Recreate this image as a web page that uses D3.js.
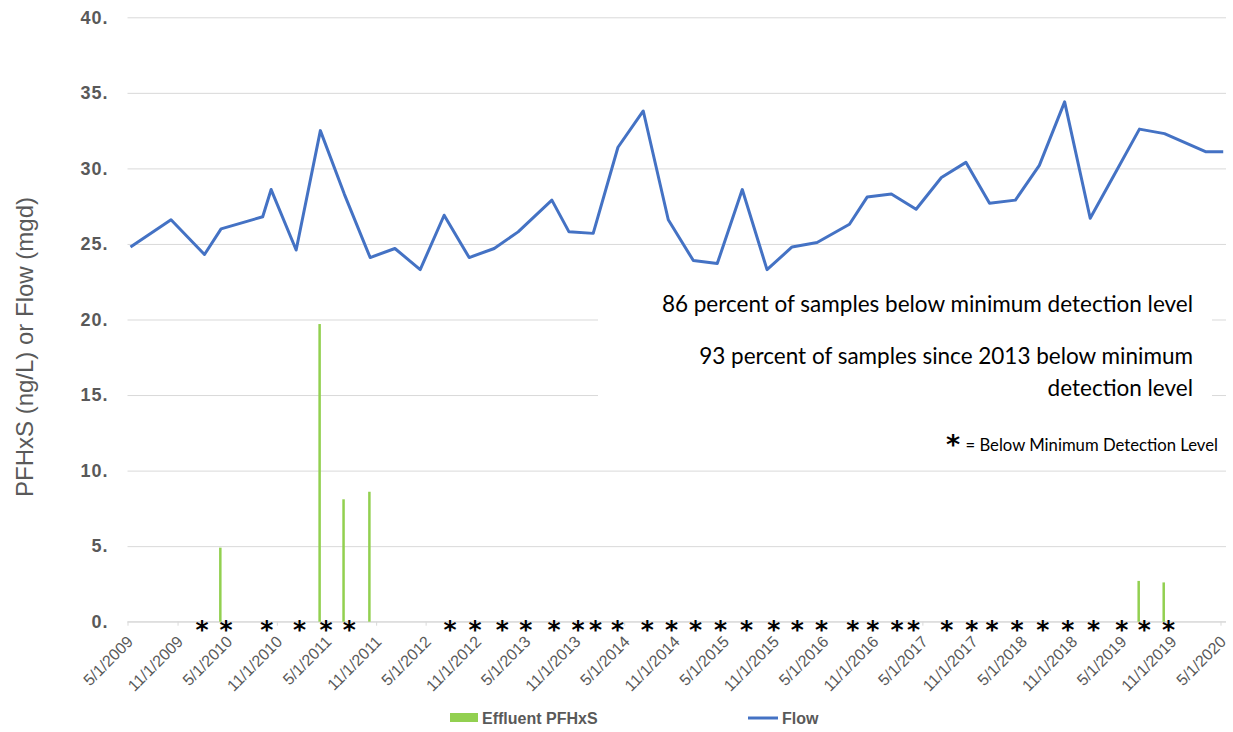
<!DOCTYPE html>
<html>
<head>
<meta charset="utf-8">
<script src="https://cdn.jsdelivr.net/npm/d3@7"></script>
<style>
  body { margin: 0; background: #fff; }
</style>
</head>
<body>
<div id="chart"></div>
<script>
// flow (mgd), one value per sample date
var flowDates = ["2009-05-12","2009-10-08","2010-02-08","2010-04-10","2010-09-10","2010-10-11",
  "2011-01-11","2011-04-10","2011-07-07","2011-10-10","2012-01-09","2012-04-11","2012-07-08",
  "2012-10-08","2013-01-08","2013-04-06","2013-08-08","2013-10-10","2014-01-07","2014-04-08",
  "2014-07-10","2014-10-10","2015-01-10","2015-04-08","2015-07-09","2015-10-08","2016-01-08",
  "2016-04-09","2016-08-06","2016-10-10","2017-01-07","2017-04-08","2017-07-10","2017-10-08",
  "2018-01-03","2018-04-08","2018-07-05","2018-10-06","2019-01-08","2019-04-07","2019-07-08",
  "2019-10-08","2020-03-09","2020-05-11"];
var flowValues = [24.8, 26.6, 24.3, 26.0, 26.8, 28.6,
  24.6, 32.5, 28.3, 24.1, 24.7, 23.3, 26.9,
  24.1, 24.7, 25.8, 27.9, 25.8, 25.7, 31.4,
  33.8, 26.6, 23.9, 23.7, 28.6, 23.3, 24.8,
  25.1, 26.3, 28.1, 28.3, 27.3, 29.4, 30.4,
  27.7, 27.9, 30.2, 34.4, 26.7, 29.6, 32.6,
  32.3, 31.1, 31.1];

// effluent PFHxS (ng/L), detected samples only
var pfhxsDates = ["2010-04-10","2011-04-10","2011-07-07","2011-10-10","2019-07-08","2019-10-08"];
var pfhxsValues = [4.9, 19.7, 8.1, 8.6, 2.7, 2.6];

// samples below minimum detection level
var bdlDates = ["2010-01-30","2010-04-28","2010-09-25","2011-01-23","2011-05-01","2011-07-25",
  "2012-07-30","2012-10-30","2013-02-07","2013-05-04","2013-08-16","2013-11-12","2014-01-16",
  "2014-04-06","2014-07-25","2014-10-22","2015-01-18","2015-04-20","2015-07-25","2015-11-02",
  "2016-01-27","2016-04-25","2016-08-18","2016-10-31","2017-01-28","2017-03-30","2017-07-30",
  "2017-10-30","2018-01-12","2018-04-14","2018-07-18","2018-10-18","2019-01-20","2019-05-04",
  "2019-07-26","2019-10-23"];

var yTicks = [0, 5, 10, 15, 20, 25, 30, 35, 40];
var xStart = "2009-05-01", xEnd = "2020-05-01";

var notes = ["86 percent of samples below minimum detection level",
  "93 percent of samples since 2013 below minimum",
  "detection level"];

var W = 1233, H = 732;
var mLeft = 127.5, mRight = 1220.5, mTop = 17.3, mBottom = 621.7, gridEnd = 1226;
var parse = d3.timeParse("%Y-%m-%d");
var fmt = d3.timeFormat("%-m/%-d/%Y");
var grey = "#595959", gridCol = "#d9d9d9";
var axisFont = "'Liberation Sans', Arial, sans-serif";
var noteFont = "Lato, 'Open Sans', sans-serif";
var starFont = "'DejaVu Sans', sans-serif";

var svg = d3.select("#chart").append("svg")
  .attr("width", W)
  .attr("height", H);

var x = d3.scaleTime()
  .domain([parse(xStart), parse(xEnd)])
  .range([mLeft, mRight]);
var y = d3.scaleLinear()
  .domain([0, 40])
  .range([mBottom, mTop]);

var xTicks = d3.timeMonths(parse(xStart), d3.timeDay.offset(parse(xEnd), 1))
  .filter(function (d, i) { return i % 6 === 0; });

// gridlines + y labels
var yAxis = svg.append("g")
  .attr("transform", "translate(" + mLeft + ",0)")
  .call(d3.axisLeft(y).tickValues(yTicks)
    .tickSize(-(gridEnd - mLeft))
    .tickPadding(19)
    .tickFormat(function (d) { return d + "."; }));
yAxis.select(".domain").remove();
yAxis.selectAll(".tick line").attr("stroke", gridCol).attr("stroke-width", 1);
yAxis.selectAll(".tick text")
  .attr("fill", grey)
  .style("font-family", axisFont)
  .style("font-size", "18px")
  .style("letter-spacing", "1px")
  .style("font-weight", "bold");

// x axis
var xAxis = svg.append("g")
  .attr("transform", "translate(0," + mBottom + ")")
  .call(d3.axisBottom(x).tickValues(xTicks).tickSize(4).tickFormat(fmt));
xAxis.select(".domain").attr("stroke", gridCol).attr("d", "M" + mLeft + ",0H" + gridEnd);
xAxis.selectAll(".tick line").attr("stroke", gridCol);
xAxis.selectAll(".tick text")
  .attr("fill", grey)
  .attr("text-anchor", "end")
  .attr("y", 0)
  .attr("dy", null)
  .attr("transform", "translate(6,21) rotate(-45)")
  .style("font-family", axisFont)
  .style("font-size", "16px");

// white box behind notes
svg.append("rect")
  .attr("x", 598).attr("y", 288)
  .attr("width", 614).attr("height", 170)
  .attr("fill", "#fff");

// effluent bars
svg.selectAll("rect.pfhxs")
  .data(pfhxsDates.map(function (d, i) { return { d: parse(d), v: pfhxsValues[i] }; }))
  .enter().append("rect")
  .attr("class", "pfhxs")
  .attr("x", function (d) { return x(d.d) - 2; })
  .attr("y", function (d) { return y(d.v); })
  .attr("width", 2.5)
  .attr("height", function (d) { return y(0) - y(d.v); })
  .attr("fill", "#92d050");

// flow line
var line = d3.line()
  .x(function (d) { return x(d.d); })
  .y(function (d) { return y(d.v); });
svg.append("path")
  .datum(flowDates.map(function (d, i) { return { d: parse(d), v: flowValues[i] }; }))
  .attr("d", line)
  .attr("fill", "none")
  .attr("stroke", "#4472c4")
  .attr("stroke-width", 3)
  .attr("stroke-linejoin", "round");

// below detection asterisks
svg.selectAll("text.bdl")
  .data(bdlDates.map(parse))
  .enter().append("text")
  .attr("class", "bdl")
  .attr("x", function (d) { return x(d); })
  .attr("y", y(0) + 16)
  .attr("text-anchor", "middle")
  .style("font-family", starFont)
  .style("font-size", "25px")
  .style("font-weight", "bold")
  .attr("fill", "#000")
  .text("*");

// y axis title
svg.append("text")
  .attr("transform", "translate(33,347) rotate(-90)")
  .attr("text-anchor", "middle")
  .attr("fill", grey)
  .style("font-family", axisFont)
  .style("font-size", "24px")
  .text("PFHxS (ng/L) or Flow (mgd)");

// notes
var noteY = [312, 364, 396];
svg.selectAll("text.note")
  .data(notes)
  .enter().append("text")
  .attr("class", "note")
  .attr("x", 1193)
  .attr("y", function (d, i) { return noteY[i]; })
  .attr("text-anchor", "end")
  .attr("fill", "#000")
  .style("font-family", noteFont)
  .style("font-size", "22.5px")
  .text(function (d) { return d; });

svg.append("text")
  .attr("x", 953).attr("y", 454)
  .attr("text-anchor", "middle")
  .style("font-family", starFont)
  .style("font-size", "27px")
  .style("font-weight", "bold")
  .text("*");
svg.append("text")
  .attr("x", 1218).attr("y", 451)
  .attr("text-anchor", "end")
  .style("font-family", noteFont)
  .style("font-size", "16.7px")
  .text("= Below Minimum Detection Level");

// legend
var legend = svg.append("g").style("font-family", axisFont).style("font-size", "16px")
  .style("font-weight", "bold");
legend.append("rect").attr("x", 450).attr("y", 713).attr("width", 28).attr("height", 9)
  .attr("fill", "#92d050");
legend.append("text").attr("x", 482).attr("y", 724).attr("fill", grey).text("Effluent PFHxS");
legend.append("line").attr("x1", 748).attr("x2", 778).attr("y1", 718).attr("y2", 718)
  .attr("stroke", "#4472c4").attr("stroke-width", 3);
legend.append("text").attr("x", 782).attr("y", 724).attr("fill", grey).text("Flow");
</script>
</body>
</html>
